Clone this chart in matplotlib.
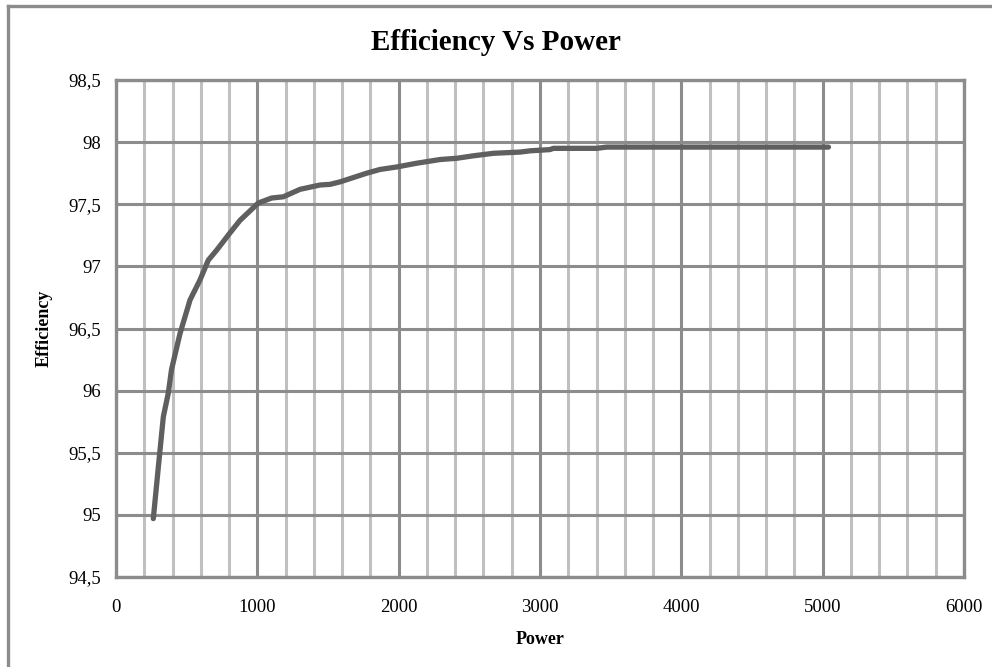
import matplotlib
matplotlib.use('Agg')
import matplotlib.pyplot as plt
from matplotlib.ticker import MultipleLocator, FuncFormatter
from matplotlib.lines import Line2D

# values
power = [264, 300, 335, 370, 393, 453, 524, 594, 653, 712, 800, 877,
         1007, 1101, 1184, 1302, 1444, 1514, 1585, 1774, 1868, 1986,
         2127, 2293, 2411, 2529, 2670, 2764, 2859, 2930, 3071, 3095,
         3401, 3472, 5041]
efficiency = [94.97, 95.39, 95.79, 95.98, 96.17, 96.46, 96.73, 96.89, 97.05,
              97.13, 97.26, 97.37, 97.51, 97.55, 97.56, 97.62, 97.655, 97.66,
              97.68, 97.75, 97.78, 97.80, 97.83, 97.86, 97.87, 97.89, 97.91,
              97.915, 97.92, 97.93, 97.94, 97.95, 97.95, 97.96, 97.96]

grid_dark = '#8c8c8c'
grid_light = '#c0c0c0'

fig = plt.figure(figsize=(9.92, 6.67), dpi=100)
ax = fig.add_axes([116/992, 90/667, 848/992, 497/667])

ax.plot(power, efficiency, color='#5f5f5f', lw=3.8, solid_capstyle='round',
        solid_joinstyle='round', zorder=5)

ax.set_xlim(0, 6000)
ax.set_ylim(94.5, 98.5)
ax.xaxis.set_major_locator(MultipleLocator(1000))
ax.xaxis.set_minor_locator(MultipleLocator(200))
ax.yaxis.set_major_locator(MultipleLocator(0.5))
ax.yaxis.set_major_formatter(FuncFormatter(lambda v, p: f'{v:g}'.replace('.', ',')))

ax.grid(True, which='minor', axis='x', color=grid_light, lw=2.2, zorder=1)
ax.grid(True, which='major', axis='x', color=grid_dark, lw=2.2, zorder=2)
ax.grid(True, which='major', axis='y', color=grid_dark, lw=2.2, zorder=2)
ax.set_axisbelow(True)

for spine in ax.spines.values():
    spine.set_color(grid_dark)
    spine.set_linewidth(2.4)

ax.tick_params(which='both', length=0)
ax.tick_params(axis='x', pad=16)
ax.tick_params(axis='y', pad=11)
for lbl in ax.get_xticklabels() + ax.get_yticklabels():
    lbl.set_fontfamily('Liberation Serif')
    lbl.set_fontsize(13.5)

ax.set_xlabel('Power', family='Liberation Serif', weight='bold', fontsize=13, labelpad=11)
ax.set_ylabel('Efficiency', family='Liberation Serif', weight='bold', fontsize=13, labelpad=11)

fig.text(0.5, 0.937, 'Efficiency Vs Power', ha='center', va='center',
         family='Liberation Serif', weight='bold', fontsize=21)

# outer chart border (left and top edges visible)
fig.add_artist(Line2D([8/992, 8/992], [0, 1 - 6/667], color=grid_dark, lw=2.4,
                      transform=fig.transFigure))
fig.add_artist(Line2D([8/992, 1], [1 - 6/667, 1 - 6/667], color=grid_dark, lw=2.4,
                      transform=fig.transFigure))

fig.savefig('out.png', dpi=100, facecolor='white')
